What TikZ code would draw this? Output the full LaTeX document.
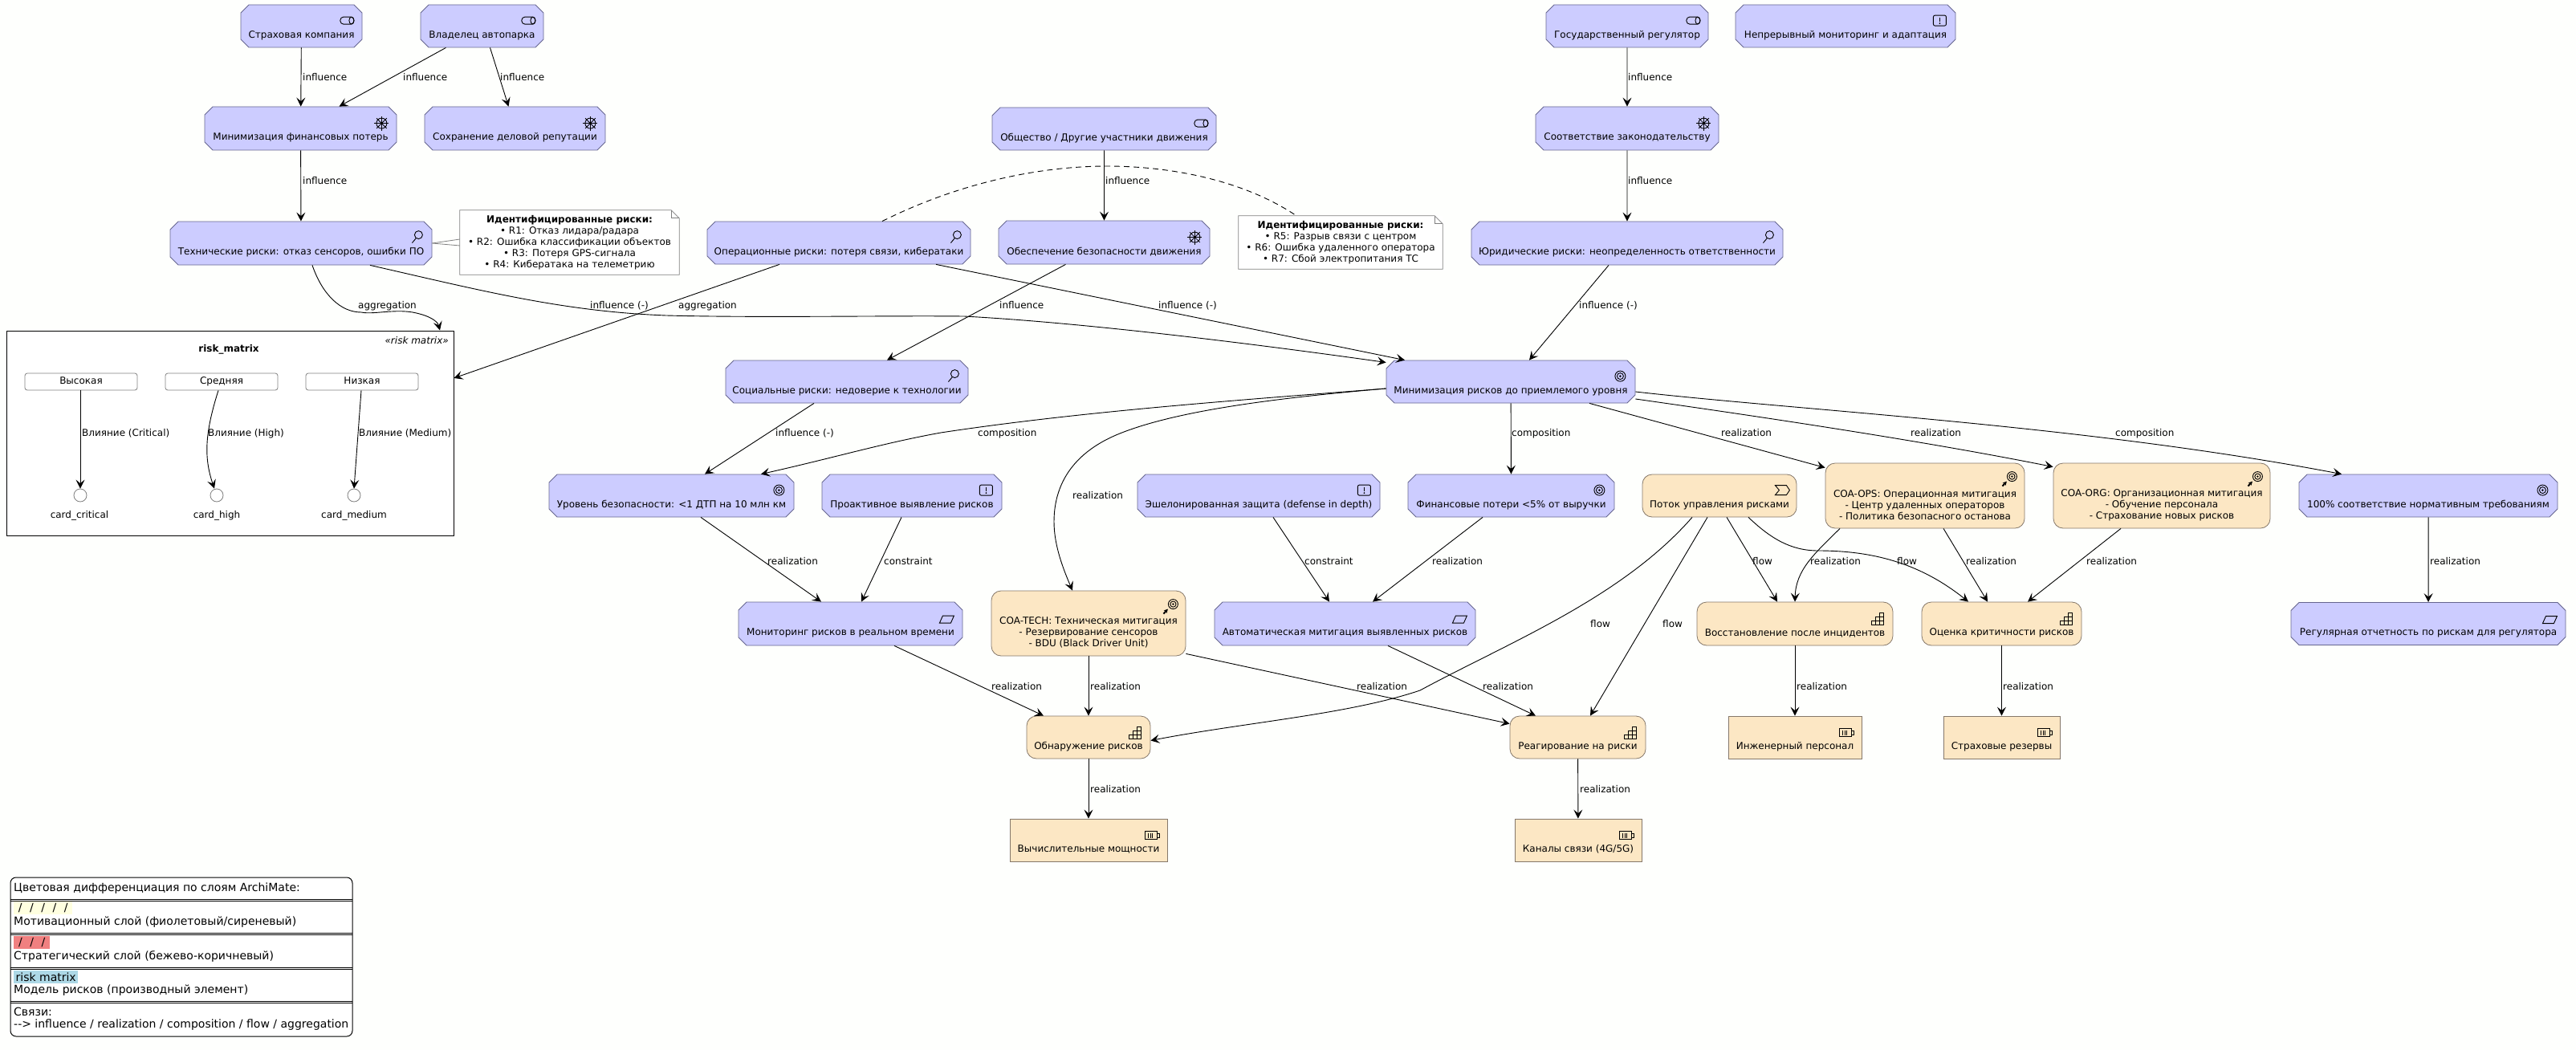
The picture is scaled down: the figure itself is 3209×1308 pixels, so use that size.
\documentclass[tikz,border=0pt]{standalone}
\usepackage{fontspec}
\setmainfont{DejaVu Sans}
\usetikzlibrary{arrows.meta,shapes.misc}
\definecolor{motivfill}{HTML}{CCCCFF}
\definecolor{motivline}{HTML}{66668F}
\definecolor{stratfill}{HTML}{FCE7C4}
\definecolor{stratline}{HTML}{85786A}
\definecolor{pagecol}{HTML}{FEFFFD}
\definecolor{swatchA}{HTML}{FFFFE0}
\definecolor{swatchB}{HTML}{F08080}
\definecolor{swatchC}{HTML}{ADD8E6}
\newcommand{\gap}{\strut\\[8pt]}
\tikzset{
  every node/.style={font=\fontsize{12}{14}\selectfont, inner sep=0, align=center},
  motiv/.style={chamfered rectangle, chamfered rectangle xsep=5, chamfered rectangle ysep=5, draw=motivline, fill=motivfill, line width=0.8},
  strat/.style={rectangle, rounded corners=12, draw=stratline, fill=stratfill, line width=0.8},
  resrc/.style={rectangle, draw=stratline, fill=stratfill, line width=0.8},
  notebox/.style={rectangle, fill=white},
  noteline/.style={draw=gray, line width=0.8},
  level/.style={rectangle, rounded corners=3, draw=gray, fill=white, line width=0.8, minimum width=140, minimum height=21, text height=9, text depth=2.5},
  card/.style={circle, draw=gray, fill=white, line width=0.8, minimum size=16},
  link/.style={-{Stealth[length=11,width=11,inset=4.5]}, line width=0.9},
  lbl/.style={anchor=west, text height=9, text depth=2.5},
  lgd/.style={anchor=west, font=\fontsize{14}{16}\selectfont, text height=10.5, text depth=3},
  swatch/.style={rectangle, anchor=west, minimum height=16, font=\fontsize{14}{16}\selectfont},
  icon/.style={line width=0.9, draw=black},
  stakeicon/.pic={\draw[icon, rounded corners=4] (-8.5,-4.5) rectangle (8.5,4.5); \draw[icon] (5.5,0) ellipse (3 and 4.5);},
  wheelicon/.pic={\draw[icon] (0,0) circle (6.5); \fill (0,0) circle (1.8);
    \foreach \a in {0,45,...,315} \draw[line width=0.8] (0,0) -- (\a:9);},
  lensicon/.pic={\draw[icon] (0,0) circle (5); \draw[icon] (-3,4) -- (-8,10);},
  ruleicon/.pic={\draw[icon, rounded corners=2] (-8,-6.5) rectangle (8,6.5); \draw[icon, line width=1.5] (0,-4) -- (0,1); \fill (0,3.5) circle (1);},
  goalicon/.pic={\draw[icon] (0,0) circle (6.5); \draw[icon] (0,0) circle (4); \fill (0,0) circle (1.4);},
  coaicon/.pic={\draw[icon] (0,0) circle (6); \draw[icon] (0,0) circle (3.6); \fill (0,0) circle (1.3);
    \draw[-{Stealth[length=5,width=5]}, line width=2] (-12,12) -- (-6.5,6);},
  sheeticon/.pic={\draw[icon] (-9,4.5) -- (-5,-4.5) -- (9,-4.5) -- (5,4.5) -- cycle;},
  stairicon/.pic={\draw[icon] (-7.5,2.5) rectangle (7.5,7.5); \draw[icon] (-2.5,-2.5) rectangle (7.5,2.5); \draw[icon] (2.5,-7.5) rectangle (7.5,-2.5);
    \draw[icon] (-2.5,2.5) -- (-2.5,7.5) (2.5,-2.5) -- (2.5,7.5);},
  flowicon/.pic={\draw[icon] (-9,-6) -- (5,-6) -- (9,0) -- (5,6) -- (-9,6) -- (-4,0) -- cycle;},
  cellicon/.pic={\draw[icon] (-9,-5) rectangle (6.5,5); \draw[icon] (6.5,-2.5) rectangle (9,2.5);
    \foreach \x in {-5,-2.5,0} \draw[line width=0.6] (\x,-3) -- (\x,3);},
}
\begin{document}
\begin{tikzpicture}[x=1pt, y=-1pt]
  \useasboundingbox (0,0) rectangle (3209,1308);
  \fill[pagecol] (0,0) rectangle (3209,1308);
  % motivation layer
  \node[motiv, minimum width=151, minimum height=53] (insurer) at (375.5,32.5) {\gap Страховая компания};
  \node[motiv, minimum width=153, minimum height=53] (owner) at (600.5,32.5) {\gap Владелец автопарка};
  \node[motiv, minimum width=239, minimum height=54] (fin) at (374.5,160) {\gap Минимизация финансовых потерь};
  \node[motiv, minimum width=225, minimum height=54] (repute) at (641.5,160) {\gap Сохранение деловой репутации};
  \node[motiv, minimum width=326, minimum height=54] (tech) at (375,303) {\gap Технические риски: отказ сенсоров, ошибки ПО};
  \node[motiv, minimum width=279, minimum height=53] (society) at (1375.5,160.5) {\gap Общество / Другие участники движения};
  \node[motiv, minimum width=328, minimum height=53] (oper) at (1045,302.5) {\gap Операционные риски: потеря связи, кибератаки};
  \node[motiv, minimum width=263, minimum height=54] (safety) at (1375.5,302) {\gap Обеспечение безопасности движения};
  \node[motiv, minimum width=302, minimum height=53] (social) at (1055,475.5) {\gap Социальные риски: недоверие к технологии};
  \node[motiv, minimum width=310, minimum height=53] (central) at (1882,475.5) {\gap Минимизация рисков до приемлемого уровня};
  \node[motiv, minimum width=202, minimum height=53] (regul) at (2027,32.5) {\gap Государственный регулятор};
  \node[motiv, minimum width=274, minimum height=53] (adapt) at (2299,32.5) {\gap Непрерывный мониторинг и адаптация};
  \node[motiv, minimum width=228, minimum height=54] (law) at (2027,160) {\gap Соответствие законодательству};
  \node[motiv, minimum width=388, minimum height=54] (legal) at (2027,303) {\gap Юридические риски: неопределенность ответственности};
  \node[motiv, minimum width=305, minimum height=53] (safelvl) at (836.5,617.5) {\gap Уровень безопасности: <1 ДТП на 10 млн км};
  \node[motiv, minimum width=224, minimum height=53] (proact) at (1136,617.5) {\gap Проактивное выявление рисков};
  \node[motiv, minimum width=302, minimum height=53] (layered) at (1568,617.5) {\gap Эшелонированная защита (defense in depth)};
  \node[motiv, minimum width=257, minimum height=53] (finloss) at (1882.5,617.5) {\gap Финансовые потери <5\% от выручки};
  \node[motiv, minimum width=322, minimum height=53] (compl) at (3025,617.5) {\gap 100\% соответствие нормативным требованиям};
  \node[motiv, minimum width=342, minimum height=53] (report) at (3025,777) {\gap Регулярная отчетность по рискам для регулятора};
  \node[motiv, minimum width=279, minimum height=54] (rtmon) at (1059.5,777) {\gap Мониторинг рисков в реальном времени};
  \node[motiv, minimum width=325, minimum height=54] (autom) at (1675.5,777) {\gap Автоматическая митигация выявленных рисков};
  % strategy layer
  \node[strat, minimum width=192, minimum height=53] (stream) at (2142,617.5) {\gap Поток управления рисками};
  \node[strat, minimum width=248, minimum height=81] (coaops) at (2398,617.5) {\gap COA-OPS: Операционная митигация\\- Центр удаленных операторов\\- Политика безопасного останова};
  \node[strat, minimum width=270, minimum height=81] (coaorg) at (2693,617.5) {\gap COA-ORG: Организационная митигация\\- Обучение персонала\\- Страхование новых рисков};
  \node[strat, minimum width=242, minimum height=81] (coatech) at (1356,776.5) {\gap COA-TECH: Техническая митигация\\- Резервирование сенсоров\\- BDU (Black Driver Unit)};
  \node[strat, minimum width=244, minimum height=54] (recov) at (2236,777) {\gap Восстановление после инцидентов};
  \node[strat, minimum width=199, minimum height=54] (crit) at (2493.5,777) {\gap Оценка критичности рисков};
  \node[strat, minimum width=154, minimum height=53] (detect) at (1356,918.5) {\gap Обнаружение рисков};
  \node[strat, minimum width=169, minimum height=53] (react) at (1965.5,918.5) {\gap Реагирование на риски};
  \node[resrc, minimum width=166, minimum height=53] (staff) at (2236,918.5) {\gap Инженерный персонал};
  \node[resrc, minimum width=145, minimum height=53] (reserv) at (2493.5,918.5) {\gap Страховые резервы};
  \node[resrc, minimum width=196, minimum height=53] (compute) at (1356,1046.5) {\gap Вычислительные мощности};
  \node[resrc, minimum width=158, minimum height=53] (chan) at (1966,1046.5) {\gap Каналы связи (4G/5G)};
  % icons
  \foreach \n in {insurer,owner,society,regul} \pic at ([xshift=-19,yshift=-20]\n.east |- \n.north) {stakeicon};
  \foreach \n in {fin,repute,safety,law} \pic at ([xshift=-19,yshift=-21]\n.east |- \n.north) {wheelicon};
  \foreach \n in {tech,oper,social,legal} \pic at ([xshift=-17,yshift=-17]\n.east |- \n.north) {lensicon};
  \foreach \n in {adapt,proact,layered} \pic at ([xshift=-20,yshift=-20]\n.east |- \n.north) {ruleicon};
  \foreach \n in {central,safelvl,finloss,compl} \pic at ([xshift=-19,yshift=-20]\n.east |- \n.north) {goalicon};
  \foreach \n in {report,rtmon,autom} \pic at ([xshift=-20,yshift=-22]\n.east |- \n.north) {sheeticon};
  \foreach \n in {coaops,coaorg,coatech} \pic at ([xshift=-16,yshift=-17]\n.east |- \n.north) {coaicon};
  \foreach \n in {recov,crit,detect,react} \pic at ([xshift=-19,yshift=-21]\n.east |- \n.north) {stairicon};
  \foreach \n in {staff,reserv,compute,chan} \pic at ([xshift=-19,yshift=-21]\n.east |- \n.north) {cellicon};
  \pic at ([xshift=-18,yshift=-20]stream.east |- stream.north) {flowicon};
  % notes
  \node[notebox, minimum width=273, minimum height=80] (note1) at (709.5,302) {\textbf{Идентифицированные риски:}\\• R1: Отказ лидара/радара\\• R2: Ошибка классификации объектов\\• R3: Потеря GPS-сигнала\\• R4: Кибератака на телеметрию};
  \node[notebox, minimum width=254, minimum height=66] (note2) at (1670,302) {\textbf{Идентифицированные риски:}\\• R5: Разрыв связи с центром\\• R6: Ошибка удаленного оператора\\• R7: Сбой электропитания ТС};
  \foreach \n in {note1,note2} {
    \draw[noteline] (\n.north west) -- ([xshift=-10]\n.north east) -- ([yshift=-10]\n.north east) -- (\n.south east) -- (\n.south west) -- cycle;
    \draw[noteline] ([xshift=-10]\n.north east) -- ([xshift=-10,yshift=-10]\n.north east) -- ([yshift=-10]\n.north east);
  }
  \draw[noteline] (tech.east) -- ([yshift=4]note1.west);
  \draw[noteline] (tech.east) -- ([yshift=-4]note1.west);
  \draw[dash pattern=on 7pt off 5pt, line width=0.9] ([xshift=54]oper.north) .. controls (1190,230) and (1290,207) .. (1379,207) .. controls (1460,207) and (1550,225) .. ([xshift=-55]note2.north);
  % risk matrix
  \node[rectangle, draw=black, fill=white, line width=1, minimum width=557, minimum height=255] (riskbox) at (286.5,539.5) {};
  \node[anchor=east, font=\fontsize{12}{14}\selectfont\itshape] (riskster) at (559,424) {«risk matrix»};
  \node[font=\fontsize{12}{14}\selectfont\bfseries] (risktitle) at (285,435) {risk\_matrix};
  \node[level] (high) at (101,475.5) {Высокая};
  \node[level] (mid) at (276,475.5) {Средняя};
  \node[level] (low) at (451,475.5) {Низкая};
  \node[card] (cardcrit) at (100,617) {};
  \node[card] (cardhigh) at (270,617) {};
  \node[card] (cardmed) at (441,617) {};
  \node (namecrit) at (99,642) {card\_critical};
  \node (namehigh) at (270,642) {card\_high};
  \node (namemed) at (441,642) {card\_medium};
  \draw[link] ([xshift=-1]high.south) -- (cardcrit.north);
  \draw[link] ([xshift=-4]mid.south) .. controls (255,540) and (254,570) .. ([xshift=-3]cardhigh.north);
  \draw[link] ([xshift=-1]low.south) -- (cardmed.north);
  \node[lbl] (m1) at (102,540) {Влияние (Critical)};
  \node[lbl] (m2) at (259,540) {Влияние (High)};
  \node[lbl] (m3) at (447,540) {Влияние (Medium)};
  % stakeholders, drivers, assessments
  \draw[link] (insurer) -- (fin);
  \node[lbl] (e1) at (377,97) {influence};
  \draw[link] ([xshift=-45]owner.south) -- ([xshift=48]fin.north);
  \node[lbl] (e2) at (502,97) {influence};
  \draw[link] ([xshift=10]owner.south) -- ([xshift=-8]repute.north);
  \node[lbl] (e3) at (623,97) {influence};
  \draw[link] (fin) -- (tech);
  \node[lbl] (e4) at (377,226) {influence};
  \draw[link] ([xshift=14]tech.south) .. controls (402,368) and (425,389) .. (450,389) .. controls (465,392) and (490,385) .. (514,389) .. controls (535,393) and (545,400) .. ([xshift=261.5]riskbox.north);
  \node[lbl] (e5) at (446,381) {aggregation};
  \draw[link] ([xshift=86]tech.south) .. controls (600,362) and (700,388) .. (830,393) .. controls (950,396) and (1100,393) .. (1201,394) .. controls (1350,402) and (1560,428) .. ([yshift=24]central.west);
  \node[lbl] (e6) at (735,381) {influence (-)};
  \draw[link] ([xshift=-74]oper.south) -- ([yshift=68.5]riskbox.east);
  \node[lbl] (e7) at (845,381) {aggregation};
  \draw[link] ([xshift=121]oper.south) -- ([xshift=-132]central.north);
  \node[lbl] (e8) at (1443,381) {influence (-)};
  \draw[link] ([xshift=-48]safety.south) -- ([xshift=50]social.north);
  \node[lbl] (e9) at (1245,381) {influence};
  \draw[link] (society) -- (safety);
  \node[lbl] (e10) at (1377,226) {influence};
  \draw[link] (regul) -- (law);
  \node[lbl] (e11) at (2028,97) {influence};
  \draw[link] (law) -- (legal);
  \node[lbl] (e12) at (2028,226) {influence};
  \draw[link] ([xshift=-23]legal.south) -- ([xshift=23]central.north);
  \node[lbl] (e13) at (1967,381) {influence (-)};
  \draw[link] ([xshift=-41]social.south) -- ([xshift=41.5]safelvl.north);
  \node[lbl] (e14) at (966,540) {influence (-)};
  % goals and mitigation
  \draw[link] ([yshift=-8.5]central.west) .. controls (1550,498) and (1350,512) .. (1172,539) .. controls (1100,552) and (1040,570) .. ([xshift=111.5]safelvl.north);
  \node[lbl] (e15) at (1218,540) {composition};
  \draw[link] ([yshift=-8.5]central.west) .. controls (1600,495) and (1470,510) .. (1395,540) .. controls (1340,562) and (1313,600) .. (1313,650) .. controls (1313,680) and (1325,710) .. ([xshift=-20]coatech.north);
  \node[lbl] (e16) at (1336,618) {realization};
  \draw[link] (central) -- (finloss);
  \node[lbl] (e17) at (1883,540) {composition};
  \draw[link] ([xshift=98]central.south) -- ([yshift=-6]coaops.north west);
  \node[lbl] (e18) at (2144,540) {realization};
  \draw[link] ([yshift=-21.5]central.east) .. controls (2200,520) and (2400,550) .. ([yshift=-5]coaorg.north west);
  \node[lbl] (e19) at (2380,540) {realization};
  \draw[link] ([yshift=-12.5]central.east) .. controls (2250,512) and (2600,530) .. ([xshift=-108]compl.north);
  \node[lbl] (e20) at (2635,540) {composition};
  \draw[link] (compl) -- (report);
  \node[lbl] (e21) at (3027,700) {realization};
  \draw[link] ([xshift=36.5]safelvl.south) -- ([xshift=-36.5]rtmon.north);
  \node[lbl] (e22) at (956,700) {realization};
  \draw[link] ([xshift=-13]proact.south) -- ([xshift=13.5]rtmon.north);
  \node[lbl] (e23) at (1101,700) {constraint};
  \draw[link] ([xshift=18]layered.south) -- ([xshift=-19.5]autom.north);
  \node[lbl] (e24) at (1625,700) {constraint};
  \draw[link] ([xshift=-35.5]finloss.south) -- ([xshift=34.5]autom.north);
  \node[lbl] (e25) at (1784,700) {realization};
  \draw[link] ([xshift=54.5]rtmon.south) -- ([xshift=-56]detect.north);
  \node[lbl] (e26) at (1235,856) {realization};
  \draw[link] (coatech) -- (detect);
  \node[lbl] (e27) at (1358,856) {realization};
  \draw[link] ([yshift=3]coatech.south east) -- ([yshift=-10]react.north west);
  \node[lbl] (e28) at (1690,856) {realization};
  \draw[link] ([xshift=53.5]autom.south) -- ([xshift=-52.5]react.north);
  \node[lbl] (e29) at (1847,856) {realization};
  % value stream
  \draw[link] ([xshift=-34]stream.south) .. controls (2020,745) and (1880,800) .. (1769,860) .. controls (1680,890) and (1550,900) .. ([yshift=-4]detect.east);
  \node[lbl] (e30) at (1981,778) {flow};
  \draw[link] ([xshift=-15]stream.south) -- ([xshift=15.5]react.north);
  \node[lbl] (e31) at (2071,778) {flow};
  \draw[link] ([xshift=9]stream.south) -- ([xshift=-22]recov.north);
  \node[lbl] (e32) at (2183,700) {flow};
  \draw[link] ([xshift=36]stream.south) .. controls (2205,670) and (2230,686) .. (2265,686) .. controls (2330,686) and (2390,700) .. ([xshift=-41.5]crit.north);
  \node[lbl] (e33) at (2363,700) {flow};
  \draw[link] ([xshift=-106]coaops.south) .. controls (2260,690) and (2237,710) .. (recov.north);
  \node[lbl] (e34) at (2255,700) {realization};
  \draw[link] ([xshift=23]coaops.south) -- ([xshift=-17.5]crit.north);
  \node[lbl] (e35) at (2449,700) {realization};
  \draw[link] ([xshift=-51]coaorg.south) -- ([xshift=32.5]crit.north);
  \node[lbl] (e36) at (2599,700) {realization};
  \draw[link] (recov) -- (staff);
  \node[lbl] (e37) at (2238,856) {realization};
  \draw[link] (crit) -- (reserv);
  \node[lbl] (e38) at (2495,856) {realization};
  \draw[link] (detect) -- (compute);
  \node[lbl] (e39) at (1358,984) {realization};
  \draw[link] (react) -- (chan);
  \node[lbl] (e40) at (1968,984) {realization};
  % legend
  \node[rectangle, rounded corners=7, draw=black, fill=white, line width=1, minimum width=426, minimum height=198] (legend) at (226,1192) {};
  \foreach \y in {1121,1163,1206,1248} {
    \draw[line width=0.9] (13,\y-1) -- (439,\y-1);
    \draw[line width=0.9] (13,\y+1) -- (439,\y+1);
  }
  \node[lgd] (lg1) at (17,1107) {Цветовая дифференциация по слоям ArchiMate:};
  \node[swatch, fill=swatchA, minimum width=73] (sw1) at (17,1131) {/\hspace{9.5pt}/\hspace{9.5pt}/\hspace{9.5pt}/\hspace{9.5pt}/};
  \node[lgd] (lg2) at (17,1149) {Мотивационный слой (фиолетовый/сиреневый)};
  \node[swatch, fill=swatchB, minimum width=45] (sw2) at (17,1174) {/\hspace{9.5pt}/\hspace{9.5pt}/};
  \node[lgd] (lg3) at (17,1192) {Стратегический слой (бежево-коричневый)};
  \node[swatch, fill=swatchC, minimum width=80] (sw3) at (17,1217) {risk matrix};
  \node[lgd] (lg4) at (17,1234) {Модель рисков (производный элемент)};
  \node[lgd] (lg5) at (17,1262) {Связи:};
  \node[lgd] (lg6) at (17,1277) {-{}-> influence / realization / composition / flow / aggregation};
\end{tikzpicture}
\end{document}
